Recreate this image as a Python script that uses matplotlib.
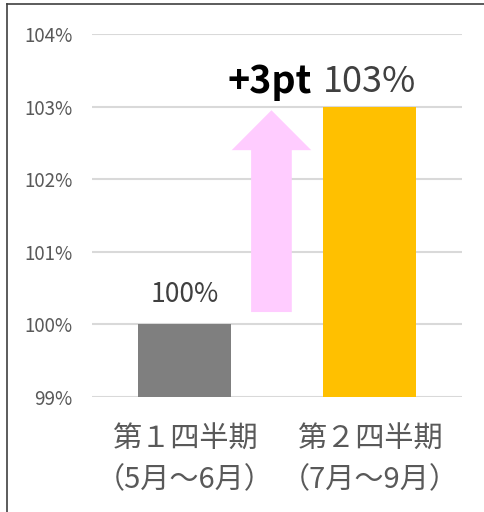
import numpy as np
import matplotlib
matplotlib.use("Agg")
from matplotlib import pyplot as plt
from matplotlib.lines import Line2D

plt.rcParams['font.family'] = ['Noto Sans CJK JP', 'DejaVu Sans']

# data
categories = ["第１四半期\n（5月～6月）", "第２四半期\n（7月～9月）"]
values = [100, 103]
bar_colors = ["#7F7F7F", "#FFC000"]
value_labels = ["100%", "103%"]
diff_label = "+3pt"
yticks = [99, 100, 101, 102, 103, 104]

fig = plt.figure(figsize=(4.84, 5.12), dpi=100)
ax = fig.add_axes([92 / 484, 1 - 397 / 512, 370 / 484, 363 / 512])

x = np.arange(len(categories))
ax.bar(x, values, width=0.5, color=bar_colors, zorder=2)
ax.set_xlim(-0.5, 1.5)
ax.set_ylim(99, 104)
ax.set_yticks(yticks)
ax.set_yticklabels([f"{t}%" for t in yticks])
ax.set_xticks(x)
ax.set_xticklabels(categories, fontsize=21, color="#595959", linespacing=1.45)
ax.tick_params(axis="y", length=0, pad=14, labelsize=13.5, labelcolor="#595959")
ax.tick_params(axis="x", length=0, pad=20)
ax.grid(axis="y", color="#D9D9D9", linewidth=1.5, zorder=0)
for s in ax.spines.values():
    s.set_visible(False)

# value labels
ax.annotate(value_labels[0], (x[0], values[0]), xytext=(0, 12), textcoords="offset points",
            ha="center", va="bottom", fontsize=19, color="#404040")
ax.annotate(value_labels[1], (x[1], values[1]), xytext=(0, 5), textcoords="offset points",
            ha="center", va="bottom", fontsize=26, color="#404040")

# arrow between the bars
ax_x = (x[0] + x[1]) / 2 - 0.03
y0 = values[0] + 0.17
y1 = values[1] - 0.05
ax.arrow(ax_x, y0, 0, y1 - y0, width=0.22, head_width=0.43, head_length=0.55,
         length_includes_head=True, color="#FFCCFF", linewidth=0, zorder=3)
ax.annotate(diff_label, (ax_x - 0.01, values[1]), xytext=(0, 4), textcoords="offset points",
            ha="center", va="bottom", fontsize=27, fontweight="bold", color="black", zorder=4)

# frame lines at left/top
fig.add_artist(Line2D([7 / 484, 7 / 484], [0, 1 - 4 / 512], color="#404040", linewidth=1.2))
fig.add_artist(Line2D([7 / 484, 1], [1 - 4 / 512, 1 - 4 / 512], color="#404040", linewidth=1.2))

fig.savefig("out.png", dpi=100)
